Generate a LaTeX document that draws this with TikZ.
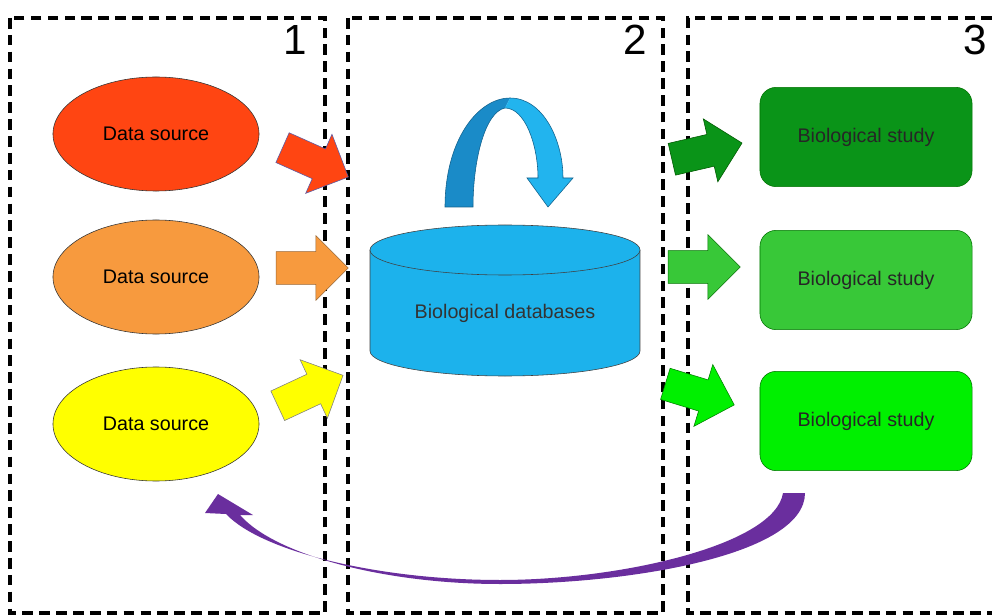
\documentclass[tikz,border=0pt]{standalone}
\usepackage{fontspec}
\setmainfont{Liberation Sans}
\usetikzlibrary{shapes.geometric,shapes.arrows}

\definecolor{srcred}{HTML}{FF4512}
\definecolor{srcorange}{HTML}{F79A3E}
\definecolor{srcyellow}{HTML}{FFFF00}
\definecolor{dbblue}{HTML}{1CB2EC}
\definecolor{turndark}{HTML}{1A8BC8}
\definecolor{turnlight}{HTML}{22B4EE}
\definecolor{studydark}{HTML}{0A9418}
\definecolor{studymid}{HTML}{38C838}
\definecolor{studylight}{HTML}{00F000}
\definecolor{backpurple}{HTML}{6A2E9E}

\tikzset{
  panel/.style={line width=2.3pt, dash pattern=on 7.5pt off 4.5pt},
  src/.style={ellipse, draw=black!80, minimum width=5.15cm, minimum height=2.85cm,
    font=\fontsize{14}{16}\selectfont},
  study/.style={rectangle, rounded corners=0.4cm, draw=green!45!black, minimum width=5.3cm,
    minimum height=2.48cm, font=\fontsize{14}{16}\selectfont, text=black!85},
  blk/.style={single arrow, inner xsep=0pt, inner ysep=0.4cm, minimum height=1.8cm,
    single arrow head extend=0.4cm},
  num/.style={font=\fontsize{30}{30}\selectfont}
}

\begin{document}
\begin{tikzpicture}[x=0.025cm, y=-0.025cm]
    \fill[white] (0,0) rectangle (992,616);
    \useasboundingbox (0,0) rectangle (992,616);
    % panels
    \draw[panel] (10,18) rectangle (325,613);
    \draw[panel] (348,18) rectangle (663,613);
    \draw[panel] (992,18) -- (688,18) -- (688,613) -- (992,613);
    \node[num] (n1) at (295,40) {1};
    \node[num] (n2) at (635,40) {2};
    \node[num] (n3) at (975,40) {3};
    % data sources
    \foreach \y/\c/\n in {134/srcred/d1, 277/srcorange/d2, 424/srcyellow/d3}
    \node[src, fill=\c] (\n) at (156,\y) {Data source};
    % database cylinder
    \fill[dbblue] (370,250) rectangle (640,351);
    \fill[dbblue] (505,351) ellipse (135 and 25);
    \draw[black!75] (370,250) -- (370,351) arc[start angle=180, end angle=0, x radius=135, y radius=25] -- (640,250);
    \draw[black!75, fill=dbblue] (505,250) ellipse (135 and 25);
    \node[font=\fontsize{14}{16}\selectfont, text=black!80] (db) at (505,313) {Biological databases};
    % studies
    \foreach \y/\c/\n in {137/studydark/s1, 280/studymid/s2, 421/studylight/s3}
    \node[study, fill=\c] (\n) at (866,\y) {Biological study};
    % block arrows
    \foreach \x/\y/\r/\c/\d/\n in {308/159/-24/srcred/blue!30!gray/a1, 304/268/0/srcorange/brown!80!black/a2,
      303/394/25/srcyellow/gray/a3, 699/153/13/studydark/green!35!black/a4,
      696/267/0/studymid/green!45!black/a5, 692/392/-17/studylight/green!50!black/a6}
    \node[blk, fill=\c, draw=\d, rotate=\r] (\n) at (\x,\y) {};
    % update loop
    \fill[turndark] (445,207) .. controls (445,140) and (478,98) .. (510,98) -- (505,108)
      .. controls (485,112) and (473,160) .. (473,207) -- cycle;
    \fill[turnlight] (510,98) .. controls (543,98) and (563,140) .. (563,178) -- (573,178) -- (548,207)
      -- (527,178) -- (538,178) .. controls (538,145) and (525,108) .. (505,108) -- cycle;
    \draw[turndark!70!black, thin] (445,207) .. controls (445,140) and (478,98) .. (510,98)
      .. controls (543,98) and (563,140) .. (563,178) -- (573,178) -- (548,207) -- (527,178) -- (538,178)
      .. controls (538,145) and (525,108) .. (505,108) .. controls (485,112) and (473,160) .. (473,207) -- cycle;
    % feedback
    \fill[backpurple] (805,493) -- (783,493) .. controls (775,545) and (620,580) .. (500,580)
      .. controls (380,580) and (262,552) .. (226,514) -- (205,513) -- (218,494) -- (253,515) -- (240,515)
      .. controls (275,555) and (385,584) .. (500,584) .. controls (630,584) and (805,555) .. (805,493) -- cycle;
\end{tikzpicture}
\end{document}
